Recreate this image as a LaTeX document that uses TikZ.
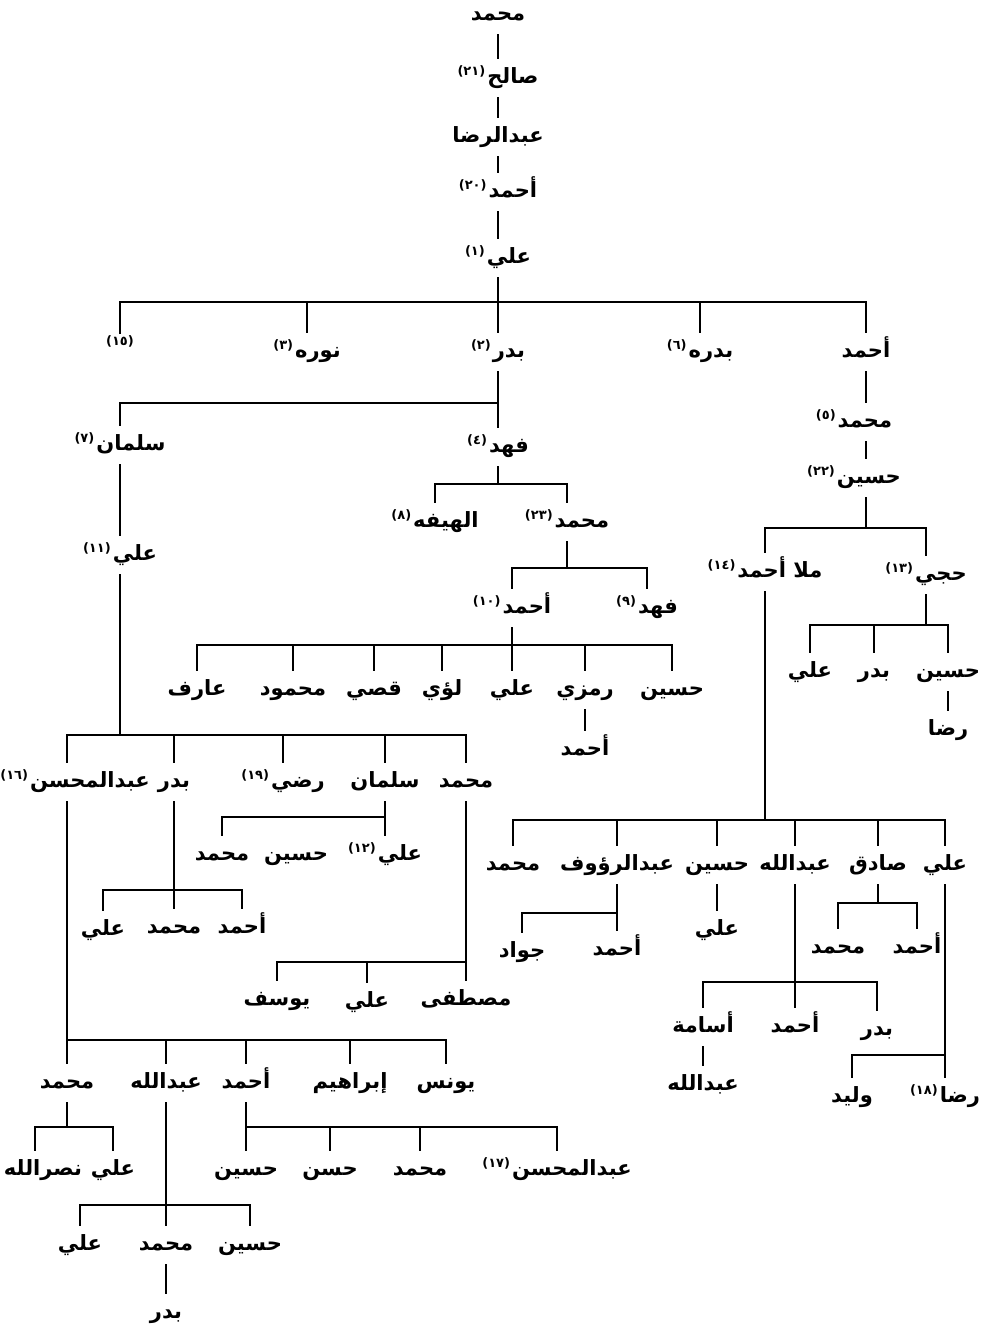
\documentclass[tikz,border=0pt]{standalone}
\usepackage{fontspec}
\newfontfamily\arabicfont[Script=Arabic]{DejaVu Sans}
\TeXXeTstate=1
\newcommand\namefont{\arabicfont\bfseries\fontsize{21}{25}\selectfont}
\newcommand\numfont{\arabicfont\bfseries\fontsize{13}{15}\selectfont}
\newcommand\withnum[2]{\beginR #1\hspace{2pt}\raisebox{7.5pt}{\numfont(#2)}\endR}

\begin{document}
\begin{tikzpicture}
  [x=1pt,y=-1pt,
   nm/.style={font=\namefont,inner sep=0pt,text height=15pt,text depth=5pt,
              minimum height=38pt},
   num/.style={font=\numfont,inner sep=1pt},
   tie/.style={line width=1.9pt}]
  \useasboundingbox (0,0) rectangle (996,1328);

  % the line down to ali (1)
  \node[nm] (muhammad top) at (498,15)  {محمد};
  \node[nm] (salih 21)     at (498,78)  {\withnum{صالح}{٢١}};
  \node[nm] (abdulrida)    at (498,137) {عبدالرضا};
  \node[nm] (ahmad 20)     at (498,192) {\withnum{أحمد}{٢٠}};
  \node[nm] (ali 1)        at (498,258) {\withnum{علي}{١}};
  \draw[tie] (muhammad top.south) -- (salih 21.north)
             (salih 21.south) -- (abdulrida.north)
             (abdulrida.south) -- (ahmad 20.north)
             (ahmad 20.south) -- (ali 1.north);

  % children of ali (1)
  \coordinate (ali 1 bar) at (498,302);
  \node[num] (n15)     at (120,341) {(١٥)};
  \node[nm]  (nura 3)  at (307,352) {\withnum{نوره}{٣}};
  \node[nm]  (badr 2)  at (498,352) {\withnum{بدر}{٢}};
  \node[nm]  (badra 6) at (700,352) {\withnum{بدره}{٦}};
  \node[nm]  (ahmad)   at (866,352) {أحمد};
  \draw[tie] (ali 1.south) -- (ali 1 bar) -- (badr 2.north);
  \draw[tie] (n15.north) |- (ali 1 bar) -| (ahmad.north);
  \draw[tie] (nura 3.north) -- (nura 3.north |- ali 1 bar)
             (badra 6.north) -- (badra 6.north |- ali 1 bar);

  % ahmad's line
  \node[nm] (muhammad 5) at (854,422) {\withnum{محمد}{٥}};
  \node[nm] (husayn 22)  at (854,478) {\withnum{حسين}{٢٢}};
  \coordinate (husayn 22 bar) at (866,528);
  \draw[tie] (ahmad.south) -- ([xshift=12pt]muhammad 5.north)
             ([xshift=12pt]muhammad 5.south) -- ([xshift=12pt]husayn 22.north)
             ([xshift=12pt]husayn 22.south) -- (husayn 22 bar);
  \node[nm] (mulla ahmad 14) at (765,572) {\withnum{ملا أحمد}{١٤}};
  \node[nm] (hajji 13)       at (926,575) {\withnum{حجي}{١٣}};
  \draw[tie] (mulla ahmad 14.north) |- (husayn 22 bar) -| (hajji 13.north);

  % hajji (13)
  \coordinate (hajji 13 bar) at (926,625);
  \node[nm] (ali h)    at (810,672) {علي};
  \node[nm] (badr h)   at (874,672) {بدر};
  \node[nm] (husayn h) at (948,672) {حسين};
  \node[nm] (rida h)   at (948,730) {رضا};
  \draw[tie] (hajji 13.south) -- (hajji 13 bar);
  \draw[tie] (ali h.north) |- (hajji 13 bar) -| (husayn h.north);
  \draw[tie] (badr h.north) -- (badr h.north |- hajji 13 bar)
             (husayn h.south) -- (rida h.north);

  % mulla ahmad (14)
  \coordinate (mulla bar) at (765,820);
  \node[nm] (muhammad m) at (513,865) {محمد};
  \node[nm] (abdulrauf)  at (617,865) {عبدالرؤوف};
  \node[nm] (husayn m)   at (717,865) {حسين};
  \node[nm] (abdullah m) at (795,865) {عبدالله};
  \node[nm] (sadiq)      at (878,865) {صادق};
  \node[nm] (ali m)      at (945,865) {علي};
  \draw[tie] (mulla ahmad 14.south) -- (mulla bar);
  \draw[tie] (muhammad m.north) |- (mulla bar) -| (ali m.north);
  \draw[tie] (abdulrauf.north) -- (abdulrauf.north |- mulla bar)
             (husayn m.north) -- (husayn m.north |- mulla bar)
             (abdullah m.north) -- (abdullah m.north |- mulla bar)
             (sadiq.north) -- (sadiq.north |- mulla bar);

  \coordinate (abdulrauf bar) at (617,913);
  \node[nm] (jawad)   at (522,952) {جواد};
  \node[nm] (ahmad r) at (617,950) {أحمد};
  \draw[tie] (abdulrauf.south) -- (abdulrauf bar) -- (ahmad r.north);
  \draw[tie] (jawad.north) |- (abdulrauf bar);

  \node[nm] (ali hm) at (717,930) {علي};
  \draw[tie] (husayn m.south) -- (ali hm.north);

  \coordinate (abdullah m bar) at (795,982);
  \node[nm] (usama)      at (703,1027) {أسامة};
  \node[nm] (ahmad am)   at (795,1027) {أحمد};
  \node[nm] (badr am)    at (877,1030) {بدر};
  \node[nm] (abdullah u) at (703,1085) {عبدالله};
  \draw[tie] (abdullah m.south) -- (abdullah m bar) -- (ahmad am.north);
  \draw[tie] (usama.north) |- (abdullah m bar) -| (badr am.north);
  \draw[tie] (usama.south) -- (abdullah u.north);

  \coordinate (sadiq bar) at (878,903);
  \node[nm] (muhammad sd) at (838,948) {محمد};
  \node[nm] (ahmad sd)    at (917,948) {أحمد};
  \draw[tie] (sadiq.south) -- (sadiq bar);
  \draw[tie] (muhammad sd.north) |- (sadiq bar) -| (ahmad sd.north);

  \coordinate (ali m bar) at (945,1055);
  \node[nm] (walid)   at (852,1097) {وليد};
  \node[nm] (rida 18) at (945,1097) {\withnum{رضا}{١٨}};
  \draw[tie] (ali m.south) -- (ali m bar) -- (rida 18.north);
  \draw[tie] (walid.north) |- (ali m bar);

  % badr (2)
  \coordinate (badr 2 bar) at (498,403);
  \node[nm] (salman 7) at (120,445) {\withnum{سلمان}{٧}};
  \node[nm] (fahd 4)   at (498,447) {\withnum{فهد}{٤}};
  \draw[tie] (badr 2.south) -- (badr 2 bar) -- (fahd 4.north);
  \draw[tie] (salman 7.north) |- (badr 2 bar);

  % fahd (4)
  \coordinate (fahd 4 bar) at (498,484);
  \node[nm] (hayfa 8)     at (435,522) {\withnum{الهيفه}{٨}};
  \node[nm] (muhammad 23) at (567,522) {\withnum{محمد}{٢٣}};
  \draw[tie] (fahd 4.south) -- (fahd 4 bar);
  \draw[tie] (hayfa 8.north) |- (fahd 4 bar) -| (muhammad 23.north);

  \coordinate (muhammad 23 bar) at (567,568);
  \node[nm] (ahmad 10) at (512,608) {\withnum{أحمد}{١٠}};
  \node[nm] (fahd 9)   at (647,608) {\withnum{فهد}{٩}};
  \draw[tie] (muhammad 23.south) -- (muhammad 23 bar);
  \draw[tie] (ahmad 10.north) |- (muhammad 23 bar) -| (fahd 9.north);

  \coordinate (ahmad 10 bar) at (512,645);
  \node[nm] (arif)     at (197,690) {عارف};
  \node[nm] (mahmud)   at (293,690) {محمود};
  \node[nm] (qusay)    at (374,690) {قصي};
  \node[nm] (luay)     at (442,690) {لؤي};
  \node[nm] (ali a)    at (512,690) {علي};
  \node[nm] (ramzi)    at (585,690) {رمزي};
  \node[nm] (husayn a) at (672,690) {حسين};
  \node[nm] (ahmad rz) at (585,750) {أحمد};
  \draw[tie] (ahmad 10.south) -- (ahmad 10 bar) -- (ali a.north);
  \draw[tie] (arif.north) |- (ahmad 10 bar) -| (husayn a.north);
  \draw[tie] (mahmud.north) -- (mahmud.north |- ahmad 10 bar)
             (qusay.north) -- (qusay.north |- ahmad 10 bar)
             (luay.north) -- (luay.north |- ahmad 10 bar)
             (ramzi.north) -- (ramzi.north |- ahmad 10 bar)
             (ramzi.south) -- (ahmad rz.north);

  % salman (7)
  \node[nm] (ali 11) at (120,555) {\withnum{علي}{١١}};
  \draw[tie] (salman 7.south) -- (ali 11.north);
  \coordinate (ali 11 bar) at (120,735);
  \node[nm] (abdulmuhsin 16) at (75,782)  {\withnum{عبدالمحسن}{١٦}};
  \node[nm] (badr s)         at (174,782) {بدر};
  \node[nm] (radi 19)        at (283,782) {\withnum{رضي}{١٩}};
  \node[nm] (salman s)       at (385,782) {سلمان};
  \node[nm] (muhammad s)     at (466,782) {محمد};
  \draw[tie] (ali 11.south) -- (ali 11 bar);
  \draw[tie] ([xshift=-8pt]abdulmuhsin 16.north) |- (ali 11 bar) -| (muhammad s.north);
  \draw[tie] (badr s.north) -- (badr s.north |- ali 11 bar)
             (radi 19.north) -- (radi 19.north |- ali 11 bar)
             (salman s.north) -- (salman s.north |- ali 11 bar);

  \coordinate (salman s bar) at (385,817);
  \node[nm] (muhammad sl) at (222,855) {محمد};
  \node[nm] (husayn sl)   at (296,855) {حسين};
  \node[nm] (ali 12)      at (385,855) {\withnum{علي}{١٢}};
  \draw[tie] (salman s.south) -- (salman s bar) -- (ali 12.north);
  \draw[tie] (muhammad sl.north) |- (salman s bar);

  \coordinate (badr s bar) at (174,890);
  \node[nm] (ali bs)      at (103,930) {علي};
  \node[nm] (muhammad bs) at (174,928) {محمد};
  \node[nm] (ahmad bs)    at (242,928) {أحمد};
  \draw[tie] (badr s.south) -- (badr s bar) -- (muhammad bs.north);
  \draw[tie] (ali bs.north) |- (badr s bar) -| (ahmad bs.north);

  \coordinate (muhammad s bar) at (466,962);
  \node[nm] (yusuf)   at (277,1000) {يوسف};
  \node[nm] (ali ms)  at (367,1002) {علي};
  \node[nm] (mustafa) at (466,1000) {مصطفى};
  \draw[tie] (muhammad s.south) -- (muhammad s bar) -- (mustafa.north);
  \draw[tie] (yusuf.north) |- (muhammad s bar);
  \draw[tie] (ali ms.north) -- (ali ms.north |- muhammad s bar);

  % abdulmuhsin (16)
  \coordinate (abdulmuhsin 16 bar) at (67,1040);
  \node[nm] (muhammad a) at (67,1083)  {محمد};
  \node[nm] (abdullah a) at (166,1083) {عبدالله};
  \node[nm] (ahmad a)    at (246,1083) {أحمد};
  \node[nm] (ibrahim)    at (350,1083) {إبراهيم};
  \node[nm] (yunus)      at (446,1083) {يونس};
  \draw[tie] ([xshift=-8pt]abdulmuhsin 16.south) -- (abdulmuhsin 16 bar) -- (muhammad a.north);
  \draw[tie] (abdulmuhsin 16 bar) -| (yunus.north);
  \draw[tie] (abdullah a.north) -- (abdullah a.north |- abdulmuhsin 16 bar)
             (ahmad a.north) -- (ahmad a.north |- abdulmuhsin 16 bar)
             (ibrahim.north) -- (ibrahim.north |- abdulmuhsin 16 bar);

  \coordinate (muhammad a bar) at (67,1127);
  \node[nm] (nasrallah) at (43,1170)  {نصرالله};
  \node[nm] (ali ma)    at (113,1170) {علي};
  \draw[tie] (muhammad a.south) -- (muhammad a bar);
  \draw[tie] ([xshift=-8pt]nasrallah.north) |- (muhammad a bar) -| (ali ma.north);

  \coordinate (ahmad a bar) at (246,1127);
  \node[nm] (husayn ab)      at (246,1170) {حسين};
  \node[nm] (hasan)          at (330,1170) {حسن};
  \node[nm] (muhammad ab)    at (420,1170) {محمد};
  \node[nm] (abdulmuhsin 17) at (557,1170) {\withnum{عبدالمحسن}{١٧}};
  \draw[tie] (ahmad a.south) -- (ahmad a bar) -- (husayn ab.north);
  \draw[tie] (ahmad a bar) -| (abdulmuhsin 17.north);
  \draw[tie] (hasan.north) -- (hasan.north |- ahmad a bar)
             (muhammad ab.north) -- (muhammad ab.north |- ahmad a bar);

  \coordinate (abdullah a bar) at (166,1205);
  \node[nm] (ali aa)      at (80,1245)  {علي};
  \node[nm] (muhammad aa) at (166,1245) {محمد};
  \node[nm] (husayn aa)   at (250,1245) {حسين};
  \node[nm] (badr aa)     at (166,1313) {بدر};
  \draw[tie] (abdullah a.south) -- (abdullah a bar) -- (muhammad aa.north);
  \draw[tie] (ali aa.north) |- (abdullah a bar) -| (husayn aa.north);
  \draw[tie] (muhammad aa.south) -- (badr aa.north);
\end{tikzpicture}
\end{document}
